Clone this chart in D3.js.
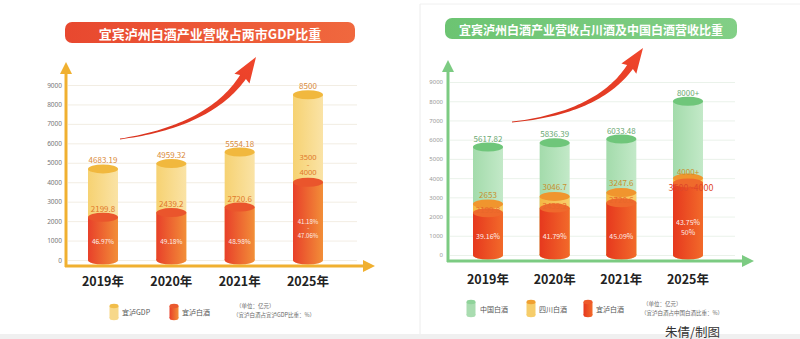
<!DOCTYPE html>
<html><head><meta charset="utf-8">
<script src="https://cdn.jsdelivr.net/npm/d3@7"></script>
<style>
html,body{margin:0;padding:0;background:#fff;}
svg{display:block;font-family:"Noto Sans CJK SC","Noto Sans",sans-serif;}
</style></head>
<body><svg id="c" width="800" height="339"></svg>
<script>
// ---------- data ----------
const years = ["2019年","2020年","2021年","2025年"];
const tickValues = [0,1000,2000,3000,4000,5000,6000,7000,8000,9000];
// left chart
const gdp = [4683.19, 4959.32, 5554.18, 8500];
const gdpLabels = ["4683.19","4959.32","5554.18","8500"];
const yiluL = [2199.8, 2439.2, 2720.6, 4000];
const yiluLLabels = [["2199.8"],["2439.2"],["2720.6"],["3500","~","4000"]];
const shareGdp = [["46.97%"],["49.18%"],["48.98%"],["41.18%","~","47.06%"]];
// right chart
const china = [5617.82, 5836.39, 6033.48, 8000];
const chinaLabels = ["5617.82","5836.39","6033.48","8000+"];
const sichuan = [2653, 3046.7, 3247.6, 4000];
const sichuanLabels = ["2653","3046.7","3247.6","4000+"];
const yiluR = [2199.8, 2439.2, 2720.6, 3750];
const yiluRLabels = ["2199.8","2439.2","2720.6","3500~4000"];
const shareChina = [["39.16%"],["41.79%"],["45.09%"],["43.75%","50%"]];

const svg = d3.select("#c");
const defs = svg.append("defs");
function hGrad(id, c1, c2){
  const g = defs.append("linearGradient").attr("id",id).attr("x1",0).attr("x2",1).attr("y1",0).attr("y2",0);
  g.append("stop").attr("offset","0%").attr("stop-color",c1);
  g.append("stop").attr("offset","100%").attr("stop-color",c2);
}
hGrad("gGdp","#f6d272","#fae3a6");
hGrad("gRedL","#e8402a","#f28e38");
hGrad("gGreen","#a3dbab","#c3e9c8");
hGrad("gSc","#f4b844","#f8cf6c");
hGrad("gRedR","#e6381e","#f26a2a");
hGrad("gTitleL","#e8482f","#f0683e");
hGrad("gTitleR","#6cc472","#82cf86");
const ag = defs.append("linearGradient").attr("id","gArrow").attr("x1",0).attr("x2",1).attr("y1",1).attr("y2",0);
ag.append("stop").attr("offset","0%").attr("stop-color","#d8321e");
ag.append("stop").attr("offset","100%").attr("stop-color","#f0462c");

// background
svg.append("rect").attr("width",800).attr("height",339).attr("fill","#fff");
svg.append("rect").attr("x",0).attr("y",334).attr("width",800).attr("height",5).attr("fill","#f0f0f0");
svg.append("line").attr("x1",420).attr("x2",420).attr("y1",4).attr("y2",334).attr("stroke","#ececec");
svg.append("line").attr("x1",420).attr("x2",800).attr("y1",4).attr("y2",4).attr("stroke","#f0f0f0");

// cylinder helper
function cylinder(g, cx, w, yTop, yBot, bodyFill, capFill, ry){
  g.append("ellipse").attr("cx",cx).attr("cy",yBot).attr("rx",w/2).attr("ry",ry).attr("fill",bodyFill);
  g.append("rect").attr("x",cx-w/2).attr("y",yTop).attr("width",w).attr("height",Math.max(0,yBot-yTop)).attr("fill",bodyFill);
  g.append("ellipse").attr("cx",cx).attr("cy",yTop).attr("rx",w/2).attr("ry",ry).attr("fill",capFill);
}

// big curved arrow
function bigArrow(p0,p1,p2,tip,maxW,headW){
  const L=[],R=[];
  const n=40;
  for(let i=0;i<=n;i++){
    const t=i/n;
    const x=(1-t)*(1-t)*p0[0]+2*(1-t)*t*p1[0]+t*t*p2[0];
    const y=(1-t)*(1-t)*p0[1]+2*(1-t)*t*p1[1]+t*t*p2[1];
    let dx=2*(1-t)*(p1[0]-p0[0])+2*t*(p2[0]-p1[0]);
    let dy=2*(1-t)*(p1[1]-p0[1])+2*t*(p2[1]-p1[1]);
    const d=Math.hypot(dx,dy); dx/=d; dy/=d;
    const w=0.4+(maxW/2-0.4)*Math.pow(t,1.1);
    L.push([x-dy*w,y+dx*w]); R.push([x+dy*w,y-dx*w]);
  }
  let dx=tip[0]-p2[0], dy=tip[1]-p2[1]; const d=Math.hypot(dx,dy); dx/=d; dy/=d;
  const hb1=[p2[0]-dy*headW/2-dx*2,p2[1]+dx*headW/2-dy*2];
  const hb2=[p2[0]+dy*headW/2-dx*2,p2[1]-dx*headW/2-dy*2];
  const pts=[...L, hb1, tip, hb2, ...R.reverse()];
  svg.append("path").attr("d","M"+pts.map(p=>p[0].toFixed(1)+","+p[1].toFixed(1)).join("L")+"Z")
     .attr("fill","url(#gArrow)");
}

function label(g,x,y,t,size,fill,extra){
  const s=g.append("text").attr("x",x).attr("y",y).attr("text-anchor","middle").attr("dominant-baseline","central")
    .attr("font-size",size).attr("fill",fill).text(t);
  if(extra) extra(s);
  return s;
}

// ================= LEFT CHART =================
(function(){
  const yL = d3.scaleLinear().domain([0,9000]).range([260,85]);
  const xL = d3.scalePoint().domain(years).range([103,308]);
  const g = svg.append("g");
  g.append("rect").attr("x",65).attr("y",22).attr("width",290).attr("height",21).attr("rx",7).attr("fill","url(#gTitleL)");
  g.append("text").attr("x",210).attr("y",33).attr("text-anchor","middle").attr("dominant-baseline","central")
    .attr("fill","#fff").attr("font-size",13).attr("font-weight","bold").text("宜宾泸州白酒产业营收占两市GDP比重");
  const grid = g.append("g").attr("transform","translate(68,0)")
    .call(d3.axisRight(yL).tickValues(tickValues).tickSize(289).tickFormat(""));
  grid.select(".domain").remove();
  grid.selectAll("line").attr("stroke","#efe9dc").attr("stroke-width",0.8);
  const ax = g.append("g").attr("transform","translate(62,0)")
    .call(d3.axisLeft(yL).tickValues(tickValues).tickSize(0).tickPadding(0).tickFormat(d3.format("d")));
  ax.select(".domain").remove();
  ax.selectAll("text").attr("font-size",6.5).attr("fill","#777").attr("font-family","Noto Sans, sans-serif");
  bigArrow([120,139],[210,126],[243,77],[256,57],7,18);
  years.forEach((yr,i)=>{
    const cx=xL(yr);
    cylinder(g,cx,30,yL(gdp[i]),yL(0),"url(#gGdp)","#f1b83e",4.5);
    cylinder(g,cx,30,yL(yiluL[i]),yL(0),"url(#gRedL)","#ea552c",4.5);
    label(g,cx,yL(gdp[i])-9,gdpLabels[i],8,"#d98a3a");
    const lab=yiluLLabels[i];
    if(lab.length===1){
      label(g,cx,yL(yiluL[i])-9,lab[0],8,"#e0782a");
    } else {
      label(g,cx,yL(yiluL[i])-25,lab[0],7.5,"#e0782a",s=>s.attr("font-family","Noto Sans, sans-serif"));
      label(g,cx,yL(yiluL[i])-17.5,lab[1],4.5,"#e0782a",s=>s.attr("font-family","Noto Sans, sans-serif"));
      label(g,cx,yL(yiluL[i])-10,lab[2],7.5,"#e0782a",s=>s.attr("font-family","Noto Sans, sans-serif"));
    }
    const sh=shareGdp[i];
    if(sh.length===1){
      label(g,cx,yL(1000),sh[0],6.5,"#fff",s=>s.attr("opacity",0.9));
    } else {
      label(g,cx,yL(1000)-19,sh[0],6,"#fff",s=>s.attr("opacity",0.9));
      label(g,cx,yL(1000)-12.5,sh[1],4,"#fff",s=>s.attr("opacity",0.9));
      label(g,cx,yL(1000)-5,sh[2],6,"#fff",s=>s.attr("opacity",0.9));
    }
    label(g,cx,280,yr,12.5,"#222",s=>s.attr("font-weight","bold"));
  });
  g.append("line").attr("x1",66).attr("x2",66).attr("y1",70).attr("y2",267).attr("stroke","#f0b030").attr("stroke-width",3);
  g.append("path").attr("d","M66,62L60,74L72,74Z").attr("fill","#f0b030");
  g.append("line").attr("x1",65).attr("x2",365).attr("y1",266).attr("y2",266).attr("stroke","#f0b030").attr("stroke-width",3);
  g.append("path").attr("d","M375,266L363,260L363,272Z").attr("fill","#f0b030");
  cylinder(g,114,9,306,318,"#f7d88a","#f1bd4a",2.2);
  g.append("text").attr("x",122).attr("y",312).attr("dominant-baseline","central").attr("font-size",7).attr("fill","#555").text("宜泸GDP");
  cylinder(g,174,9,306,318,"url(#gRedL)","#ea5a2e",2.2);
  g.append("text").attr("x",182).attr("y",312).attr("dominant-baseline","central").attr("font-size",7).attr("fill","#555").text("宜泸白酒");
  g.append("text").attr("x",236).attr("y",306).attr("dominant-baseline","central").attr("font-size",5.5).attr("fill","#666").text("（单位：亿元）");
  g.append("text").attr("x",233).attr("y",315).attr("dominant-baseline","central").attr("font-size",5.5).attr("fill","#666").text("（宜泸白酒占宜泸GDP比重：%）");
})();

// ================= RIGHT CHART =================
(function(){
  const yR = d3.scaleLinear().domain([0,9000]).range([255,82]);
  const xR = d3.scalePoint().domain(years).range([488,688]);
  const g = svg.append("g");
  g.append("rect").attr("x",445).attr("y",18).attr("width",292).attr("height",21).attr("rx",7).attr("fill","url(#gTitleR)");
  g.append("text").attr("x",591).attr("y",29).attr("text-anchor","middle").attr("dominant-baseline","central")
    .attr("fill","#fff").attr("font-size",12).attr("font-weight","bold").text("宜宾泸州白酒产业营收占川酒及中国白酒营收比重");
  const grid = g.append("g").attr("transform","translate(450,0)")
    .call(d3.axisRight(yR).tickValues(tickValues).tickSize(285).tickFormat(""));
  grid.select(".domain").remove();
  grid.selectAll("line").attr("stroke","#e5efe5").attr("stroke-width",0.8);
  const ax = g.append("g").attr("transform","translate(443,0)")
    .call(d3.axisLeft(yR).tickValues(tickValues).tickSize(0).tickPadding(0).tickFormat(d3.format("d")));
  ax.select(".domain").remove();
  ax.selectAll("text").attr("font-size",6).attr("fill","#999").attr("font-family","Noto Sans, sans-serif");
  bigArrow([512,122],[598,113],[630,67],[643,48],7,18);
  years.forEach((yr,i)=>{
    const cx=xR(yr);
    cylinder(g,cx,30,yR(china[i]),yR(0),"url(#gGreen)","#6fc67a",4.5);
    cylinder(g,cx,30,yR(sichuan[i]),yR(0),"url(#gSc)","#f0952e",4.5);
    cylinder(g,cx,30,yR(yiluR[i]),yR(0),"url(#gRedR)","#ef6a2c",4.5);
    label(g,cx,yR(china[i])-9,chinaLabels[i],8,"#6aa872");
    label(g,cx,yR(sichuan[i])-(i===3?7:10),sichuanLabels[i],8,"#c8902e");
    label(g,cx+(i===3?3:0),yR(yiluR[i])+(i===3?5:-3),yiluRLabels[i],i===3?9:8,i===3?"#e0482a":"#e8682a");
    const sh=shareChina[i];
    if(sh.length===1){
      label(g,cx,yR(1000),sh[0],7,"#fff",s=>s.attr("opacity",0.9));
    } else {
      label(g,cx,yR(1700),sh[0],7,"#fff",s=>s.attr("opacity",0.9));
      label(g,cx,yR(1200),sh[1],7,"#fff",s=>s.attr("opacity",0.9));
    }
    label(g,cx,278,yr,12.5,"#222",s=>s.attr("font-weight","bold"));
  });
  g.append("line").attr("x1",448).attr("x2",448).attr("y1",68).attr("y2",262).attr("stroke","#7ccb82").attr("stroke-width",3);
  g.append("path").attr("d","M448,60L442,72L454,72Z").attr("fill","#7ccb82");
  g.append("line").attr("x1",447).attr("x2",745).attr("y1",261).attr("y2",261).attr("stroke","#7ccb82").attr("stroke-width",3);
  g.append("path").attr("d","M754,261L742,255L742,267Z").attr("fill","#7ccb82");
  cylinder(g,471,9,302,315,"#a9dcb0","#8fd39a",2.2);
  g.append("text").attr("x",480).attr("y",309).attr("dominant-baseline","central").attr("font-size",7).attr("fill","#555").text("中国白酒");
  cylinder(g,531,9,302,315,"#f6cd6a","#f0a030",2.2);
  g.append("text").attr("x",539).attr("y",309).attr("dominant-baseline","central").attr("font-size",7).attr("fill","#555").text("四川白酒");
  cylinder(g,588,9,302,315,"url(#gRedR)","#ee5a2a",2.2);
  g.append("text").attr("x",596).attr("y",309).attr("dominant-baseline","central").attr("font-size",7).attr("fill","#555").text("宜泸白酒");
  g.append("text").attr("x",643).attr("y",304).attr("dominant-baseline","central").attr("font-size",5.5).attr("fill","#666").text("（单位：亿元）");
  g.append("text").attr("x",641).attr("y",313).attr("dominant-baseline","central").attr("font-size",5.5).attr("fill","#666").text("（宜泸白酒占中国白酒比重：%）");
  g.append("text").attr("x",665).attr("y",331).attr("dominant-baseline","central").attr("font-size",12.5).attr("fill","#333").text("朱倩/制图");
})();
</script></body></html>
